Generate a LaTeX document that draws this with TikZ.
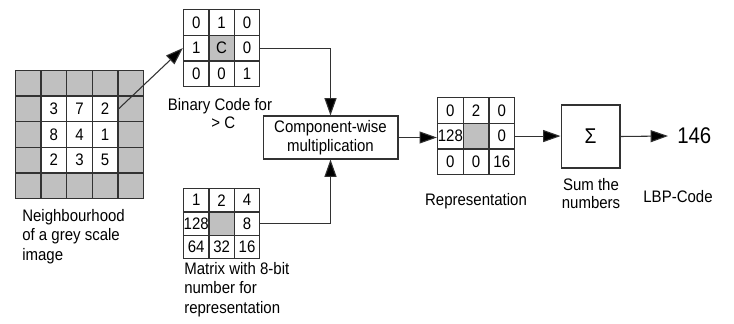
\documentclass[tikz,border=0pt]{standalone}
\usepackage{fontspec}
\setmainfont{Liberation Sans}[FakeStretch=0.9]
\usetikzlibrary{arrows.meta}
\definecolor{cellgray}{RGB}{192,192,192}
\definecolor{linecol}{RGB}{50,50,50}
% #1 name, #2 x0, #3 y0, #4 pitch x, #5 pitch y, #6 list row/col/text/fill
\newcommand\mkgridcells[6]{%
  \foreach \rr/\cc/\celltext/\cellfill in {#6} {%
    \node[cell, fill=\cellfill, minimum width=#4*0.75pt, minimum height=#5*0.75pt]
      (#1-\rr-\cc) at ({#2+(\cc-0.5)*#4},{#3+(\rr-0.5)*#5}) {\makebox[0pt]{\celltext}};
  }}
\begin{document}
\begin{tikzpicture}[x=0.75pt,y=-0.75pt,
  font=\fontsize{12.5}{14.5}\selectfont,
  cell/.style={draw=linecol, line width=1pt, inner sep=0pt, anchor=center},
  lbl/.style={inner sep=0pt, font=\fontsize{12.5}{14.6}\selectfont},
  box/.style={draw=linecol, line width=1pt, fill=white},
  arrow/.style={draw=linecol, line width=0.8pt, -{Triangle[length=13pt,width=9pt,fill=black]}}
]
\useasboundingbox (0,0) rectangle (734,324);
\fill[white] (0,0) rectangle (734,324);

% neighbourhood grid
\mkgridcells{big}{15.5}{70.5}{25.6}{25.6}{
  1/1//cellgray,1/2//cellgray,1/3//cellgray,1/4//cellgray,1/5//cellgray,
  2/1//cellgray,2/5//cellgray,3/1//cellgray,3/5//cellgray,4/1//cellgray,4/5//cellgray,
  5/1//cellgray,5/2//cellgray,5/3//cellgray,5/4//cellgray,5/5//cellgray,
  2/2/3/white,2/3/7/white,2/4/2/white,
  3/2/8/white,3/3/4/white,3/4/1/white,
  4/2/2/white,4/3/3/white,4/4/5/white}
\node[lbl, anchor=north west, align=left] (nlab) at (22,209) {Neighbourhood\\of a grey scale\\image};

% binary code grid
\mkgridcells{bin}{183.5}{9.5}{25.4}{25.7}{
  1/1/0/white,1/2/1/white,1/3/0/white,
  2/1/1/white,2/2/C/cellgray,2/3/0/white,
  3/1/0/white,3/2/0/white,3/3/1/white}
\node[lbl, anchor=north] (blab) at (220,97) {\begin{tabular}{@{}c@{}}Binary Code for\\[-1.5pt]\hspace{5pt}{>} C\end{tabular}};

% weight matrix
\mkgridcells{mat}{183.5}{188.5}{25.4}{23.4}{
  1/1/1/white,1/2/2/white,1/3/4/white,
  2/1/128/white,2/2//cellgray,2/3/8/white,
  3/1/64/white,3/2/32/white,3/3/16/white}
\node[lbl, anchor=north west, align=left] (mlab) at (184,262) {Matrix with 8-bit\\number for\\representation};

% multiplication box
\node[box, minimum width=101pt, minimum height=32pt, align=center, inner sep=0pt,
  font=\fontsize{12.5}{14}\selectfont] (mult) at (330.5,137.5) {Component-wise\\multiplication};

% representation grid
\mkgridcells{rep}{437.5}{97.5}{25.7}{25.7}{
  1/1/0/white,1/2/2/white,1/3/0/white,
  2/1/128/white,2/2//cellgray,2/3/0/white,
  3/1/0/white,3/2/0/white,3/3/16/white}
\node[lbl, anchor=north] (rlab) at (476,193) {Representation};

% sum box
\node[box, minimum width=44pt, minimum height=47pt, inner sep=0pt,
  font=\fontsize{16}{16}\selectfont] (sum) at (590.5,136.5) {Σ};
\node[lbl, anchor=north, align=center, font=\fontsize{12.5}{13.5}\selectfont] (slab) at (591,178) {Sum the\\numbers};

% result
\node[anchor=west, inner xsep=6.75pt, inner ysep=0pt, font=\fontsize{17}{17}\selectfont] (code) at (668,136) {146};
\node[lbl, anchor=north] (clab) at (678,190) {LBP-Code};

% connectors
\draw[arrow] (big-2-4.east) -- (bin-2-1.west);
\draw[arrow] (bin-2-3.east) -| (mult.north);
\draw[arrow] (mat-2-3.east) -| (mult.south);
\draw[arrow] (mult.east) -- (rep-2-1.west |- mult.east);
\draw[arrow] (rep-2-3.east) -- (sum.west |- rep-2-3.east);
\draw[arrow] (sum.east) -- (code.west);
\end{tikzpicture}
\end{document}
